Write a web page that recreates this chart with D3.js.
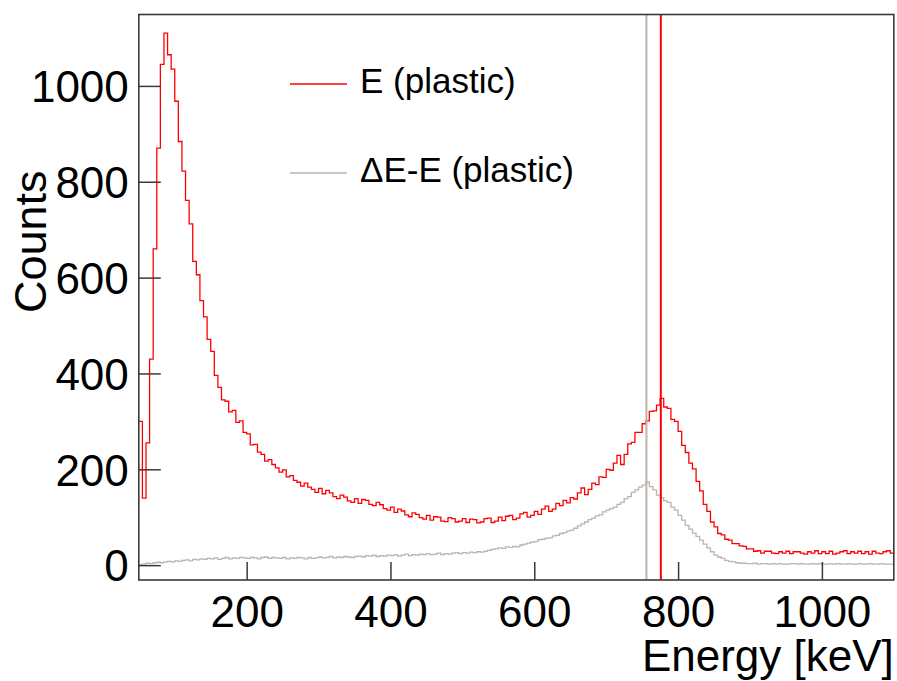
<!DOCTYPE html>
<html>
<head>
<meta charset="utf-8">
<script src="https://cdn.jsdelivr.net/npm/d3@7"></script>
<style>
  body { margin: 0; background: #fff; }
  text { font-family: "Liberation Sans", Arial, Helvetica, sans-serif; fill: #000; }
</style>
</head>
<body>
<div id="chart"></div>
<script>
// histogram binning (keV)
const binLow = 50, binWidth = 5;

// E (plastic) counts per 5 keV bin, 50 -> 1100 keV
const countsE = [
  300, 140, 255, 430, 660, 870, 1045, 1110, 1065, 1035,
  968, 884, 822, 761, 712, 634, 606, 552, 518, 471,
  446, 396, 371, 345, 342, 320, 323, 298, 301, 277,
  274, 251, 252, 236, 231, 217, 220, 210, 203, 194,
  199, 184, 187, 177, 173, 165, 171, 163, 158, 152,
  160, 149, 156, 151, 143, 139, 146, 142, 134, 131,
  139, 129, 137, 135, 127, 124, 131, 126, 118, 115,
  121, 110, 117, 113, 105, 101, 109, 106, 99, 96,
  104, 94, 101, 100, 92, 91, 99, 97, 90, 92,
  97, 89, 96, 95, 88, 90, 97, 98, 89, 92,
  100, 93, 102, 104, 95, 98, 107, 110, 100, 104,
  112, 106, 117, 123, 112, 117, 129, 124, 135, 130,
  141, 138, 151, 161, 147, 158, 171, 168, 184, 183,
  200, 198, 213, 229, 210, 231, 253, 256, 277, 277,
  295, 301, 321, 322, 334, 348, 330, 327, 304, 300,
  279, 250, 235, 213, 201, 175, 155, 127, 112, 90,
  80, 66, 63, 54, 52, 45, 45, 40, 39, 34,
  34, 29, 30, 25, 29, 29, 25, 24, 28, 25,
  29, 24, 28, 28, 25, 23, 28, 25, 30, 24,
  28, 24, 29, 23, 25, 28, 30, 24, 28, 25,
  29, 24, 28, 23, 29, 25, 24, 28, 30, 25
];

// dE-E (plastic) counts per 5 keV bin
const countsDE = [
  1, 2, 4, 3, 5, 6, 5, 7, 8, 7,
  9, 8, 10, 11, 9, 12, 11, 13, 12, 14,
  13, 15, 12, 14, 16, 13, 15, 14, 16, 15,
  14, 16, 15, 13, 16, 17, 14, 16, 15, 14,
  16, 13, 15, 14, 16, 15, 13, 16, 14, 15,
  17, 15, 16, 18, 15, 17, 16, 18, 17, 16,
  18, 19, 17, 20, 19, 21, 18, 20, 19, 21,
  20, 22, 19, 21, 23, 20, 22, 21, 23, 22,
  24, 22, 23, 25, 22, 24, 23, 25, 26, 24,
  26, 25, 27, 26, 28, 27, 29, 31, 33, 34,
  36, 35, 38, 37, 39, 38, 42, 44, 46, 48,
  49, 53, 54, 56, 57, 61, 62, 66, 68, 71,
  73, 77, 82, 86, 90, 95, 98, 103, 105, 111,
  115, 118, 121, 127, 131, 139, 143, 152, 157, 163,
  167, 173, 164, 157, 146, 141, 134, 131, 121, 115,
  104, 94, 83, 75, 67, 60, 52, 44, 36, 28,
  21, 17, 14, 10, 8, 7, 5, 4, 4, 3,
  3, 4, 2, 3, 3, 2, 3, 2, 3, 2,
  2, 3, 3, 2, 3, 2, 2, 3, 2, 3,
  2, 2, 3, 2, 3, 2, 2, 3, 2, 2,
  3, 2, 2, 3, 2, 2, 3, 2, 2, 2
];

const seriesNames = ["E (plastic)", "\u0394E-E (plastic)"];
const peakEnergies = [776, 756]; // vertical markers, same order as series
const xTicks = [200, 400, 600, 800, 1000];
const yTicks = [0, 200, 400, 600, 800, 1000];

document.addEventListener("DOMContentLoaded", () => {
    const width = 897, height = 681;
    const left = 138.8, right = 893.8, top = 14.5, bottom = 580;
    const colorE = "#ff0000", colorDE = "#bdb4aa", frameColor = "#3a3a3a";

    const svg = d3.select("#chart")
        .append("svg")
        .attr("width", width)
        .attr("height", height);

    const x = d3.scaleLinear().domain([50, 1100]).range([left, right]);
    const y = d3.scaleLinear().domain([-31, 1149]).range([bottom, top]);

    svg.append("defs").append("clipPath").attr("id", "plot")
        .append("rect")
        .attr("x", left).attr("y", top)
        .attr("width", right - left).attr("height", bottom - top);

    // histogram as a step line, last bin closed at its upper edge
    const stepPoints = counts => {
        const pts = counts.map((c, i) => [binLow + i * binWidth, c]);
        pts.push([binLow + counts.length * binWidth, counts[counts.length - 1]]);
        return pts;
    };
    const step = d3.line()
        .x(d => x(d[0]))
        .y(d => y(d[1]))
        .curve(d3.curveStepAfter);

    const plot = svg.append("g").attr("clip-path", "url(#plot)");

    plot.append("path")
        .attr("d", step(stepPoints(countsDE)))
        .attr("fill", "none")
        .attr("stroke", colorDE)
        .attr("stroke-width", 1.3);

    plot.append("path")
        .attr("d", step(stepPoints(countsE)))
        .attr("fill", "none")
        .attr("stroke", colorE)
        .attr("stroke-width", 1.3);

    // peak markers
    [colorE, colorDE].forEach((col, i) => {
        plot.append("line")
            .attr("x1", x(peakEnergies[i])).attr("x2", x(peakEnergies[i]))
            .attr("y1", top).attr("y2", bottom)
            .attr("stroke", col)
            .attr("stroke-width", 2);
    });

    // axes: ticks inside the frame like ROOT
    const xAxis = svg.append("g")
        .attr("transform", `translate(0, ${bottom})`)
        .call(d3.axisBottom(x).tickValues(xTicks).tickSize(-18).tickFormat(d3.format("d")));
    const yAxis = svg.append("g")
        .attr("transform", `translate(${left}, 0)`)
        .call(d3.axisLeft(y).tickValues(yTicks).tickSize(-22).tickPadding(10).tickFormat(d3.format("d")));

    [xAxis, yAxis].forEach(ax => {
        ax.select(".domain").remove();
        ax.selectAll(".tick line").attr("stroke", frameColor).attr("stroke-width", 1.5);
        ax.selectAll(".tick text")
            .attr("font-size", 44)
            .attr("font-family", "Liberation Sans, Arial, sans-serif")
            .attr("fill", "#000");
    });
    xAxis.selectAll(".tick text").attr("dy", "0.71em").attr("y", 16);
    yAxis.selectAll(".tick text").attr("dy", "0.36em");

    svg.append("rect")
        .attr("x", left).attr("y", top)
        .attr("width", right - left).attr("height", bottom - top)
        .attr("fill", "none")
        .attr("stroke", frameColor)
        .attr("stroke-width", 1.6);

    // axis titles
    svg.append("text")
        .attr("x", right).attr("y", 671)
        .attr("text-anchor", "end")
        .attr("font-size", 44)
        .text("Energy [keV]");

    svg.append("text")
        .attr("transform", "translate(46, 313) rotate(-90)")
        .attr("text-anchor", "start")
        .attr("font-size", 45)
        .text("Counts");

    // legend
    const legend = svg.append("g");
    [colorE, colorDE].forEach((col, i) => {
        const ly = 84 + i * 89;
        legend.append("line")
            .attr("x1", 290).attr("x2", 347)
            .attr("y1", ly).attr("y2", ly)
            .attr("stroke", col)
            .attr("stroke-width", 1.3);
        legend.append("text")
            .attr("x", 360).attr("y", ly + 9)
            .attr("font-size", 35)
            .text(seriesNames[i]);
    });
});
</script>
</body>
</html>
